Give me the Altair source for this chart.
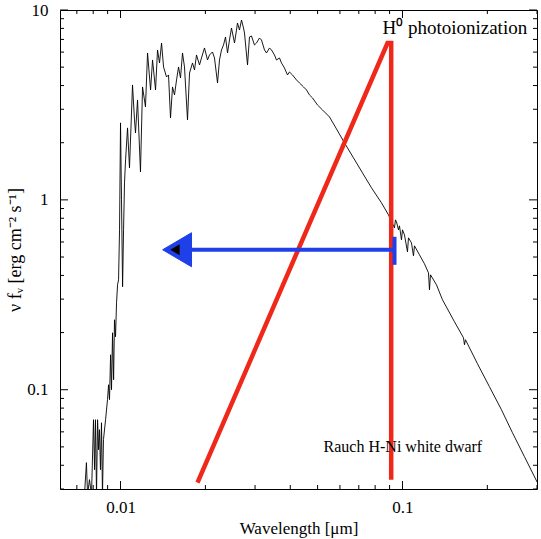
import altair as alt
import pandas as pd

# ---- spectrum ----
wavelength = [
    0.00745, 0.00757, 0.00764, 0.00776, 0.00789, 0.00802, 0.00809, 0.00815, 0.00822, 0.00829,
    0.00836, 0.00842, 0.00849, 0.00856, 0.00863, 0.00870, 0.00885, 0.00899, 0.00907, 0.00914,
    0.00922, 0.00929, 0.00937, 0.00945, 0.00952, 0.00960, 0.00968, 0.00976, 0.00984, 0.00992,
    0.01000, 0.01008, 0.01017, 0.01025, 0.01033, 0.01042, 0.01059, 0.01076, 0.01103, 0.01121,
    0.01130, 0.01149, 0.01177, 0.01197, 0.01226, 0.01247, 0.01278, 0.01299, 0.01331, 0.01353,
    0.01375, 0.01398, 0.01421, 0.01456, 0.01480, 0.01504, 0.01529, 0.01554, 0.01580, 0.01606,
    0.01632, 0.01659, 0.01686, 0.01728, 0.01757, 0.01800, 0.01830, 0.01860, 0.01906, 0.01937,
    0.01985, 0.02035, 0.02068, 0.02119, 0.02154, 0.02208, 0.02244, 0.02281, 0.02319, 0.02357,
    0.02396, 0.02435, 0.02475, 0.02537, 0.02578, 0.02599, 0.02642, 0.02686, 0.02730, 0.02752,
    0.02821, 0.02867, 0.02914, 0.02986, 0.03036, 0.03111, 0.03162, 0.03241, 0.03294, 0.03376,
    0.03431, 0.03516, 0.03574, 0.03663, 0.03723, 0.03815, 0.03910, 0.03974, 0.04073, 0.04208,
    0.04312, 0.04456, 0.04566, 0.04679, 0.04795, 0.04995, 0.05203, 0.05509, 0.05833, 0.06228,
    0.06703, 0.07214, 0.07765, 0.08425, 0.08920, 0.09368, 0.09445, 0.09522, 0.09679, 0.09758,
    0.09919, 0.10000, 0.10165, 0.10417, 0.10502, 0.10762, 0.10940, 0.11030, 0.11489, 0.11968,
    0.12366, 0.12467, 0.12570, 0.13200, 0.13866, 0.15291, 0.16457, 0.16592, 0.16728, 0.18451,
    0.20346, 0.22440, 0.24548, 0.27075, 0.30104,
]
flux = [
    0.028, 0.0413, 0.028, 0.0336, 0.028, 0.0695, 0.0379, 0.0695, 0.028, 0.0695,
    0.0483, 0.0616, 0.0379, 0.0670, 0.028, 0.0546, 0.0695, 0.0886, 0.1062, 0.0886,
    0.1528, 0.100, 0.1995, 0.1129, 0.2336, 0.1901, 0.2870, 0.3570, 0.3793, 0.6952,
    2.543, 1.000, 0.3483, 0.6952, 1.229, 1.624, 2.393, 1.474, 4.030, 2.637,
    2.252, 3.360, 1.404, 3.933, 3.087, 5.938, 3.793, 5.456, 3.793, 6.158,
    5.261, 6.704, 5.012, 4.440, 4.549, 2.702, 3.933, 3.570, 4.281, 5.012,
    4.386, 5.938, 5.012, 2.637, 4.660, 5.261, 4.833, 5.796, 5.135, 5.589,
    6.310, 5.456, 5.796, 6.011, 5.589, 4.128, 5.456, 6.158, 6.543, 7.210,
    5.938, 6.952, 8.039, 6.704, 7.847, 8.543, 7.847, 8.859, 8.039, 7.566,
    5.135, 7.210, 7.298, 6.543, 6.704, 7.123, 6.952, 6.158, 5.938, 6.310,
    6.158, 5.796, 5.456, 5.589, 5.261, 4.951, 4.549, 4.717, 4.549, 4.281,
    4.128, 3.933, 3.793, 3.570, 3.443, 3.162, 2.976, 2.734, 2.364, 1.995,
    1.664, 1.387, 1.157, 0.9643, 0.8337, 0.7123, 0.7848, 0.7660, 0.6952, 0.7298,
    0.6158, 0.6952, 0.6543, 0.5324, 0.6310, 0.5938, 0.5072, 0.5727, 0.5134, 0.4604,
    0.4128, 0.3360, 0.4030, 0.3570, 0.2976, 0.2280, 0.1878, 0.1725, 0.1833, 0.1370,
    0.1037, 0.07847, 0.05938, 0.04440, 0.03240,
]

# ---- annotations ----
red_wl = [0.01875, 0.0885, 0.0912, 0.0912]
red_f = [0.0324, 6.70, 6.70, 0.0336]

arrow_wl = [0.0172, 0.0937]
arrow_f = [0.546, 0.546]
bar_wl = [0.0937, 0.0937]
bar_f = [0.455, 0.639]
head_wl = [0.01587]
head_f = [0.546]
core_wl = [0.01560]
core_f = [0.546]

labels_text = ["H\u2070 photoionization", "Rauch H-Ni white dwarf"]
labels_wl = [0.0849, 0.0525]
labels_f = [8.0, 0.0501]
labels_size = [19, 16]

# ---- ticks ----
x_labels = [0.01, 0.1]
y_labels = [0.1, 1, 10]
major_x = [0.01, 0.1]
minor_x = [0.007, 0.008, 0.009, 0.02, 0.03, 0.04, 0.05, 0.06, 0.07, 0.08, 0.09, 0.2, 0.3]
major_y = [0.1, 1, 10]
minor_y = [0.03, 0.04, 0.05, 0.06, 0.07, 0.08, 0.09,
           0.2, 0.3, 0.4, 0.5, 0.6, 0.7, 0.8, 0.9,
           2, 3, 4, 5, 6, 7, 8, 9]

W, H = 477, 479
FONT = "Liberation Serif"

xs = alt.Scale(type="log", domain=[0.0061, 0.3], nice=False)
ys = alt.Scale(type="log", domain=[0.03, 10], nice=False)

x_axis = alt.Axis(values=x_labels, format="~g", title="Wavelength [\u03bcm]",
                  grid=False, domain=False, ticks=False, tickSize=0,
                  labelFont=FONT, labelFontSize=17, labelColor="black", labelPadding=10,
                  titleFont=FONT, titleFontSize=17, titleFontWeight="normal",
                  titleColor="black", titlePadding=5)
y_axis = alt.Axis(values=y_labels, format="~g",
                  title="\u03bd f\u1d65 [erg cm\u207b\u00b2 s\u207b\u00b9]",
                  grid=False, domain=False, ticks=False, tickSize=0,
                  labelFont=FONT, labelFontSize=17, labelColor="black", labelPadding=12,
                  titleFont=FONT, titleFontSize=18, titleFontWeight="normal",
                  titleColor="black", titlePadding=2)


def X(field):
    return alt.X(f"{field}:Q", scale=xs, axis=x_axis)


def Y(field):
    return alt.Y(f"{field}:Q", scale=ys, axis=y_axis)


spec_df = pd.DataFrame({"wl": wavelength, "f": flux, "i": range(len(flux))})
spectrum = alt.Chart(spec_df).mark_line(color="black", strokeWidth=0.9, clip=True).encode(
    x=X("wl"), y=Y("f"), order="i:Q")

red_df = pd.DataFrame({"wl": red_wl, "f": red_f, "i": range(len(red_f))})
red = alt.Chart(red_df).mark_line(color="#f0281a", strokeWidth=4.5, clip=True).encode(
    x=X("wl"), y=Y("f"), order="i:Q")

arrow_df = pd.DataFrame({"wl": arrow_wl, "f": arrow_f})
arrow = alt.Chart(arrow_df).mark_line(color="#1f3fe8", strokeWidth=4).encode(
    x=X("wl"), y=Y("f"))

bar_df = pd.DataFrame({"wl": bar_wl, "f": bar_f})
bar = alt.Chart(bar_df).mark_line(color="#1f3fe8", strokeWidth=4).encode(
    x=X("wl"), y=Y("f"))

head = alt.Chart(pd.DataFrame({"wl": head_wl, "f": head_f})).mark_point(
    shape="M-0.85,0L0.85,-1L0.85,1Z", size=1156, filled=True, fill="#1f3fe8",
    opacity=1, stroke="#1f3fe8", strokeWidth=1).encode(x=X("wl"), y=Y("f"))
core = alt.Chart(pd.DataFrame({"wl": core_wl, "f": core_f})).mark_point(
    shape="M-0.85,0L0.85,-1L0.85,1Z", size=120, filled=True, fill="black",
    opacity=1).encode(x=X("wl"), y=Y("f"))

lab_df = pd.DataFrame({"wl": labels_wl, "f": labels_f, "t": labels_text, "s": labels_size})
labels = alt.Chart(lab_df).mark_text(align="left", baseline="middle", font=FONT,
                                     color="black").encode(
    x=X("wl"), y=Y("f"), text="t:N",
    size=alt.Size("s:Q", scale=None, legend=None))


def vticks(vals, length):
    df = pd.DataFrame({"v": vals})
    bottom = alt.Chart(df).mark_rule(color="black", strokeWidth=1).encode(
        x=X("v"), y=alt.value(H), y2=alt.value(H - length))
    top = alt.Chart(df).mark_rule(color="black", strokeWidth=1).encode(
        x=X("v"), y=alt.value(0), y2=alt.value(length))
    return [bottom, top]


def hticks(vals, length):
    df = pd.DataFrame({"v": vals})
    left = alt.Chart(df).mark_rule(color="black", strokeWidth=1).encode(
        y=Y("v"), x=alt.value(0), x2=alt.value(length))
    right = alt.Chart(df).mark_rule(color="black", strokeWidth=1).encode(
        y=Y("v"), x=alt.value(W), x2=alt.value(W - length))
    return [left, right]


layers = (vticks(major_x, 8) + vticks(minor_x, 4) + hticks(major_y, 8) + hticks(minor_y, 4)
          + [spectrum, red, arrow, bar, head, core, labels])

chart = alt.layer(*layers).properties(
    width=W, height=H,
    autosize=alt.AutoSizeParams(type="none"),
    padding={"left": 60, "top": 10, "right": 4, "bottom": 50},
    background="white",
).configure_view(stroke="black", strokeWidth=1)

chart.save("out.html", embed_options={"renderer": "svg", "actions": False})
